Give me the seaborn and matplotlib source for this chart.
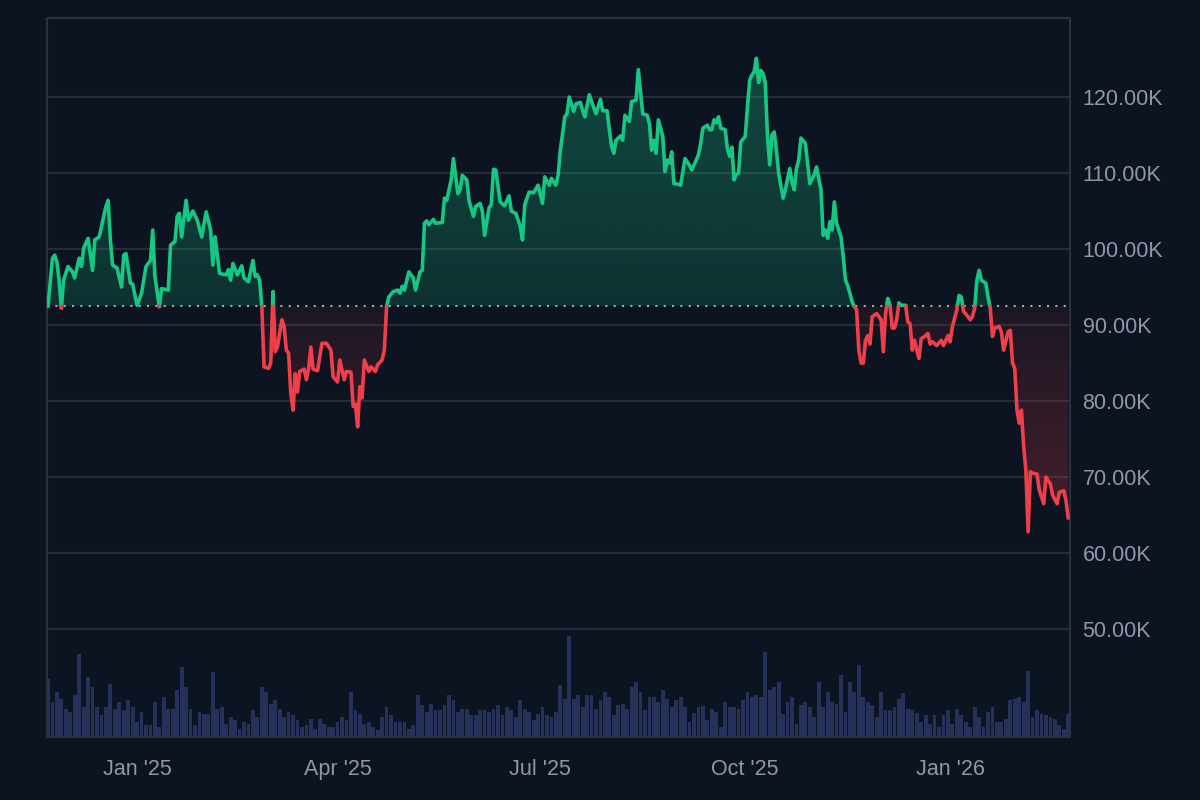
import numpy as np
import pandas as pd
import matplotlib
matplotlib.use("Agg")
import matplotlib.pyplot as plt
import matplotlib.dates as mdates
import matplotlib.colors as mcolors
from matplotlib.ticker import FixedLocator, FuncFormatter
import seaborn as sns

# ---------------- data ----------------
START_DATE = "2024-11-22"

price_day = [0, 2, 3, 4, 5, 6, 7, 9, 11, 12, 14, 15, 16, 18, 20, 21, 23, 26, 27, 28, 29, 31, 33, 34, 35, 37, 38, 40,
             42, 44, 46, 47, 48, 50, 51, 54, 55, 57, 58, 59, 60, 62, 63, 65, 67, 69, 71, 73, 74, 75, 77, 80, 81, 82,
             83, 85, 87, 88, 90, 92, 93, 94, 95, 96, 97, 99, 100, 101, 102, 103, 105, 106, 107, 108, 109, 110, 111,
             112, 113, 115, 116, 117, 118, 119, 121, 123, 125, 127, 128, 130, 131, 133, 134, 136, 137, 138, 139, 140,
             141, 142, 144, 145, 147, 148, 150, 151, 152, 153, 155, 157, 158, 159, 160, 162, 164, 165, 167, 168, 169,
             170, 171, 173, 174, 177, 178, 179, 181, 182, 184, 185, 186, 188, 189, 191, 192, 194, 195, 196, 198, 199,
             200, 201, 203, 205, 207, 208, 210, 212, 213, 214, 216, 218, 220, 222, 223, 225, 226, 228, 229, 230, 232,
             233, 234, 236, 237, 239, 240, 241, 243, 245, 246, 248, 249, 251, 252, 253, 254, 255, 257, 258, 259, 261,
             262, 264, 265, 267, 269, 270, 271, 272, 273, 274, 276, 277, 278, 279, 280, 281, 282, 284, 285, 286, 288,
             289, 291, 292, 293, 294, 296, 297, 298, 299, 300, 301, 302, 304, 305, 306, 307, 308, 309, 310, 311, 313,
             314, 315, 316, 317, 318, 319, 320, 321, 322, 323, 324, 325, 326, 327, 328, 330, 331, 333, 334, 335, 336,
             337, 338, 340, 341, 342, 344, 345, 347, 348, 349, 350, 351, 352, 353, 354, 356, 357, 358, 359, 361, 362,
             363, 364, 365, 366, 367, 368, 369, 370, 372, 373, 374, 375, 376, 377, 378, 379, 380, 381, 382, 383, 385,
             386, 387, 388, 389, 390, 391, 392, 394, 395, 396, 397, 399, 401, 402, 404, 405, 406, 407, 408, 409, 410,
             411, 413, 414, 415, 416, 417, 418, 419, 421, 422, 423, 424, 425, 427, 428, 429, 431, 432, 433, 434, 435,
             436, 437, 438, 439, 440, 441, 442, 444, 445, 447, 448, 450, 451, 453, 454, 456, 457, 458]

price_k = [92.45, 98.8, 99.2, 98.3, 95.9, 92.2, 95.9, 97.7, 97.0, 96.2, 98.8, 97.7, 100.1, 101.4, 97.2, 101.2, 101.6,
           105.6, 106.4, 101.2, 97.9, 97.5, 95.0, 99.2, 99.4, 95.5, 95.4, 92.6, 94.2, 97.7, 98.5, 102.5, 96.4, 92.4,
           94.8, 94.6, 100.5, 101.0, 104.3, 104.7, 101.6, 106.4, 103.8, 105.0, 103.8, 101.6, 104.9, 102.5, 97.9, 101.6,
           96.8, 96.6, 97.3, 95.9, 98.1, 96.6, 97.8, 96.2, 95.7, 98.5, 96.4, 96.6, 95.9, 92.4, 84.5, 84.3, 85.0, 94.4,
           86.5, 87.1, 90.7, 89.8, 86.7, 86.3, 81.0, 78.8, 83.6, 81.2, 83.9, 84.2, 82.8, 84.2, 87.1, 84.2, 84.0, 87.6,
           87.6, 86.7, 83.2, 82.5, 85.4, 82.8, 83.9, 83.8, 79.3, 79.6, 76.6, 81.9, 80.4, 85.4, 83.9, 84.5, 83.9, 84.8,
           85.4, 86.7, 92.4, 93.7, 94.4, 94.6, 94.2, 95.1, 94.6, 97.0, 96.2, 94.6, 97.0, 97.2, 103.4, 103.7, 103.2,
           103.9, 103.4, 103.5, 106.7, 106.4, 109.1, 111.9, 107.3, 107.8, 109.7, 109.1, 106.4, 104.3, 105.6, 106.0,
           105.0, 101.8, 105.4, 105.9, 110.5, 110.4, 106.2, 105.7, 107.0, 105.0, 104.7, 103.0, 101.2, 105.8, 107.5,
           107.4, 108.4, 106.0, 109.5, 108.4, 109.3, 108.4, 109.7, 113.0, 117.4, 117.8, 120.0, 118.1, 119.1, 119.3,
           118.2, 117.4, 120.3, 118.6, 117.8, 119.7, 118.2, 118.2, 115.7, 113.5, 112.6, 114.3, 114.9, 114.3, 117.6,
           116.8, 119.4, 119.6, 123.6, 117.8, 117.6, 116.5, 113.0, 114.3, 112.6, 117.0, 114.8, 110.2, 111.7, 111.3,
           112.8, 108.6, 108.6, 108.4, 110.2, 111.9, 111.0, 110.4, 111.7, 112.4, 113.9, 115.9, 116.3, 115.7, 115.7,
           117.0, 116.6, 117.4, 115.9, 115.7, 113.2, 112.2, 113.4, 109.1, 109.8, 110.0, 114.1, 114.8, 118.7, 122.2,
           122.9, 123.3, 125.1, 121.9, 123.5, 123.1, 121.9, 114.8, 111.1, 115.0, 115.4, 113.0, 110.0, 106.7, 107.8,
           110.6, 108.8, 107.8, 110.6, 111.7, 114.6, 113.9, 111.3, 108.6, 109.8, 110.8, 107.8, 101.8, 102.5, 101.4,
           103.6, 102.5, 106.2, 103.4, 101.6, 99.0, 95.9, 95.2, 93.1, 92.4, 92.0, 86.7, 85.0, 85.0, 88.0, 88.6, 87.5,
           91.1, 91.5, 91.1, 90.7, 86.5, 91.5, 93.5, 92.6, 89.6, 89.6, 90.7, 92.9, 92.6, 92.6, 90.4, 90.2, 86.7, 88.0,
           86.7, 85.6, 88.2, 88.6, 88.9, 87.5, 87.8, 87.3, 88.0, 87.3, 88.6, 87.8, 89.8, 90.9, 92.0, 93.9, 93.7, 91.8,
           91.1, 90.7, 91.1, 92.2, 95.9, 97.2, 95.9, 95.5, 93.7, 92.2, 88.5, 89.6, 89.8, 89.1, 86.7, 89.1, 89.3, 85.0,
           84.3, 78.8, 77.1, 78.8, 74.0, 70.9, 62.8, 70.7, 70.5, 70.4, 68.3, 66.5, 70.0, 69.1, 67.6, 66.5, 68.0, 68.2,
           66.9, 64.6]

# volume bars, one reading every second day (arbitrary units)
volume_day = list(range(0, 459, 2))
volume = [58, 35, 45, 38, 28, 25, 42, 83, 30, 60, 50, 30, 22, 30, 53, 28, 35, 27, 37, 30, 15, 25, 12, 12, 35, 10,
          40, 28, 28, 47, 70, 50, 28, 12, 25, 23, 23, 65, 28, 30, 13, 20, 17, 8, 15, 13, 27, 20, 50, 45, 33, 37, 28,
          20, 25, 22, 17, 10, 12, 18, 8, 18, 13, 10, 10, 15, 20, 17, 45, 27, 23, 13, 15, 10, 7, 20, 30, 22, 15, 15,
          15, 8, 12, 42, 32, 25, 33, 27, 27, 32, 42, 37, 25, 28, 28, 22, 22, 27, 27, 25, 28, 32, 22, 30, 27, 20, 37,
          28, 25, 17, 23, 30, 22, 20, 25, 52, 38, 100, 38, 42, 30, 42, 42, 28, 37, 45, 40, 22, 32, 33, 28, 50, 55,
          45, 27, 40, 40, 35, 47, 38, 30, 37, 40, 30, 15, 24, 30, 31, 17, 28, 25, 10, 35, 30, 30, 28, 37, 45, 40, 42,
          40, 85, 47, 50, 55, 23, 35, 40, 13, 32, 35, 30, 20, 55, 30, 45, 35, 33, 62, 25, 55, 45, 72, 40, 35, 32, 20,
          45, 27, 27, 30, 38, 44, 28, 27, 24, 15, 22, 13, 22, 10, 22, 27, 13, 28, 22, 15, 10, 30, 20, 10, 25, 30, 15,
          15, 18, 37, 38, 40, 35, 66, 20, 27, 23, 22, 20, 18, 12, 8, 23]

price_ticks_k = [50, 60, 70, 80, 90, 100, 110, 120]
month_ticks = [1, 4, 7, 10]

# ---------------- style ----------------
BG = "#0d1421"
GRID = "#262c3a"
SPINE = "#2b3140"
TEXT = "#9098a8"
UP = "#16c784"
DOWN = "#ef3f4a"
VOL = "#263159"

sns.set_style("dark", {"axes.facecolor": BG, "figure.facecolor": BG})
plt.rcParams["font.family"] = ["Liberation Sans", "DejaVu Sans"]

fig = plt.figure(figsize=(12, 8), dpi=100, facecolor=BG)
ax_vol = fig.add_axes([47 / 1200, 1 - 737 / 800, (1070 - 47) / 1200, (737 - 18) / 800])
ax = fig.add_axes(ax_vol.get_position(), sharex=ax_vol)
ax_vol.set_facecolor(BG)
ax.patch.set_visible(False)

start = mdates.date2num(pd.Timestamp(START_DATE))
t = start + np.asarray(price_day, dtype=float)
p = np.asarray(price_k, dtype=float)
base = p[0]

# insert baseline crossings so colour changes exactly on the baseline
xs, ys = [t[0]], [p[0]]
for i in range(1, len(t)):
    y0, y1 = p[i - 1], p[i]
    if (y0 - base) * (y1 - base) < 0:
        f = (base - y0) / (y1 - y0)
        xs.append(t[i - 1] + f * (t[i] - t[i - 1]))
        ys.append(base)
    xs.append(t[i])
    ys.append(p[i])
xs = np.array(xs)
ys = np.array(ys)

# build runs of same side
rows = []
seg = 0
cur_side = None
for i in range(1, len(xs)):
    mid = 0.5 * (ys[i - 1] + ys[i])
    side = "up" if mid >= base else "down"
    if side != cur_side:
        seg += 1
        cur_side = side
        rows.append((xs[i - 1], ys[i - 1], seg, side))
    rows.append((xs[i], ys[i], seg, side))
df = pd.DataFrame(rows, columns=["t", "price", "seg", "side"])

ymin_ax, ymax_ax = 35.8, 130.4


def gradient_fill(x, lo, hi, color, a_top, a_bot, y0, y1):
    poly = ax.fill_between(x, lo, hi, facecolor="none", edgecolor="none")
    path = poly.get_paths()[0]
    rgb = mcolors.to_rgb(color)
    n = 256
    img = np.zeros((n, 1, 4))
    img[..., 0], img[..., 1], img[..., 2] = rgb
    img[:, 0, 3] = np.linspace(a_top, a_bot, n)
    im = ax.imshow(img, aspect="auto", origin="upper",
                   extent=[x.min(), x.max(), y0, y1], zorder=1, interpolation="bilinear")
    im.set_clip_path(path, transform=ax.transData)


gradient_fill(xs, base, np.maximum(ys, base), UP, 0.30, 0.17, base, ys.max())
gradient_fill(xs, np.minimum(ys, base), base, DOWN, 0.07, 0.26, ys.min(), base)

ax.axhline(base, color="#a3a8b3", linestyle=(0, (1, 3)), linewidth=1.5, zorder=2)

sns.lineplot(data=df, x="t", y="price", hue="side", units="seg", estimator=None, sort=False,
             palette={"up": UP, "down": DOWN}, linewidth=2.6, legend=False, ax=ax, zorder=3)
for ln in ax.get_lines():
    ln.set_solid_joinstyle("round")
    ln.set_solid_capstyle("round")

# volume
tv = start + np.asarray(volume_day, dtype=float)
ax_vol.bar(tv, volume, width=1.7, color=VOL, linewidth=0, align="center")
ax_vol.set_ylim(0, max(volume) * 7.15)
ax_vol.set_yticks([])
ax_vol.grid(False)

# axes limits & ticks
ax.set_xlim(start - 0.45, start + 458.8)
ax.set_ylim(ymin_ax, ymax_ax)
ax.yaxis.set_major_locator(FixedLocator(price_ticks_k))
ax.yaxis.set_major_formatter(FuncFormatter(lambda v, _: f"{v:.2f}K"))
ax.yaxis.tick_right()
ax.tick_params(axis="y", length=0, pad=9, labelsize=15.5, labelcolor=TEXT)
ax.xaxis.set_major_locator(mdates.MonthLocator(bymonth=month_ticks))
ax.xaxis.set_major_formatter(mdates.DateFormatter("%b '%y"))
ax.tick_params(axis="x", length=0, pad=16, labelsize=15.5, labelcolor=TEXT)
ax_vol.tick_params(axis="x", length=0, labelbottom=False)
ax.set_xlabel("")
ax.set_ylabel("")
ax.grid(True, axis="y", color=GRID, linewidth=1.5)
ax.grid(False, axis="x")

for a in (ax, ax_vol):
    for s in a.spines.values():
        s.set_visible(False)
for s in ax_vol.spines.values():
    s.set_visible(True)
    s.set_color(SPINE)
    s.set_linewidth(1.5)

fig.savefig("out.png", dpi=100, facecolor=BG)
